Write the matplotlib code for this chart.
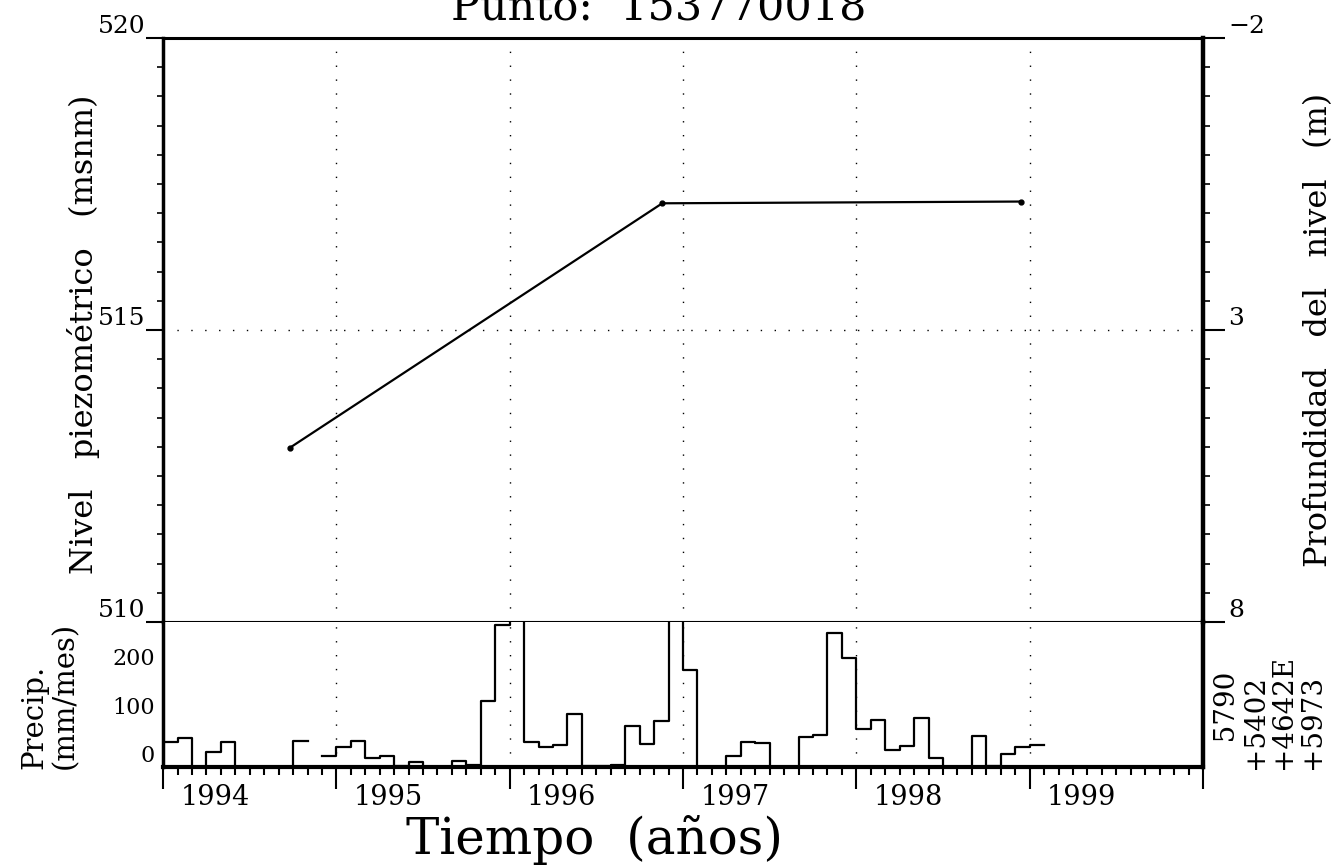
import numpy as np
import matplotlib
matplotlib.use("Agg")
import matplotlib.pyplot as plt
import matplotlib.transforms as mtransforms
from matplotlib.ticker import FixedLocator, MultipleLocator

nan = np.nan

# nivel piezometrico: fecha (años decimales) y cota (msnm)
nivel_fecha = [1994.48, 1996.63, 1998.70]
nivel_msnm = [512.98, 517.17, 517.20]

# precipitacion mensual (mm/mes) desde octubre 1993, nan = sin dato
precip_inicio = 1993.75
precip_mm = [52, 60, 0, 30, 51, 0, 0, 0, 0, 54, nan, 23,      # oct93-sep94
             42, 54, 19, 23, 2, 10, 0, 0, 12, 4, 137, 293,    # oct94-sep95
             330, 51, 41, 46, 109, 3, 2, 4, 84, 47, 95, 340,  # oct95-sep96
             200, 0, 0, 23, 52, 49, 0, 0, 63, 67, 277, 225,   # oct96-sep97
             78, 98, 36, 44, 102, 18, 0, 0, 65, 3, 27, 41,    # oct97-sep98
             45]                                              # oct98

anios = [1994, 1995, 1996, 1997, 1998, 1999]
ticks_nivel = [510, 515, 520]
ticks_prof = [-2, 3, 8]
ticks_precip = [0, 100, 200]

titulo = "Punto:  153770018"
coords = "   5790\n+5402\n+4642E\n+5973"

DOTS = (0, (1, 9))


def plot_chart():
    plt.rcParams['font.family'] = ['DejaVu Serif']
    fig = plt.figure(figsize=(13.41, 8.65), dpi=100)
    ax = fig.add_axes([0.1216, 0.281, 0.7755, 0.675])
    axp = fig.add_axes([0.1216, 0.1133, 0.7755, 0.1677])

    x0 = precip_inicio
    x1 = precip_inicio + len(anios)
    inicios = [x0 + k for k in range(len(anios) + 1)]

    # panel superior: nivel
    ax.plot(nivel_fecha, nivel_msnm, color='black', lw=1.6, marker='o', ms=3.5)
    ax.set_xlim(x0, x1)
    ax.set_ylim(ticks_nivel[0], ticks_nivel[-1])
    ax.xaxis.set_major_locator(FixedLocator(inicios))
    ax.tick_params(axis='x', length=0, labelbottom=False)
    ax.set_yticks(ticks_nivel)
    ax.yaxis.set_minor_locator(MultipleLocator(0.5))
    ax.tick_params(axis='y', which='major', direction='out', length=12, width=1.5,
                   labelsize=18, pad=1)
    ax.tick_params(axis='y', which='minor', direction='out', length=4, width=1.2)
    for lbl in ax.get_yticklabels():
        lbl.set_va('bottom')
    ax.grid(True, which='major', color='black', lw=1.0, ls=DOTS)
    ax.spines['left'].set_linewidth(2.5)
    ax.spines['top'].set_linewidth(2.2)
    ax.spines['bottom'].set_linewidth(1.5)
    ax.spines['right'].set_visible(False)

    ax2 = ax.twinx()
    ax2.set_ylim(ticks_prof[-1], ticks_prof[0])
    ax2.set_yticks(ticks_prof)
    ax2.yaxis.set_minor_locator(MultipleLocator(0.5))
    ax2.tick_params(axis='y', which='major', direction='out', length=16, width=1.5,
                    labelsize=18, pad=2)
    ax2.tick_params(axis='y', which='minor', direction='out', length=5, width=1.2)
    for lbl in ax2.get_yticklabels():
        lbl.set_va('bottom')
    for s in ['left', 'top', 'bottom']:
        ax2.spines[s].set_visible(False)
    ax2.spines['right'].set_linewidth(3.2)

    # panel inferior: precipitacion
    bordes = x0 + np.arange(len(precip_mm) + 1) / 12.0
    vals = list(precip_mm) + [precip_mm[-1]]
    axp.step(bordes, vals, where='post', color='black', lw=1.6)
    axp.set_xlim(x0, x1)
    axp.set_ylim(0, 300)
    axp.xaxis.set_major_locator(FixedLocator(inicios))
    axp.xaxis.set_minor_locator(MultipleLocator(1 / 12.0))
    axp.tick_params(axis='x', which='major', direction='out', length=16, width=1.5,
                    labelbottom=False)
    axp.tick_params(axis='x', which='minor', direction='out', length=6, width=1.5)
    axp.set_yticks(ticks_precip)
    axp.tick_params(axis='y', length=0, labelsize=16, pad=6)
    for lbl in axp.get_yticklabels():
        lbl.set_va('bottom')
    axp.grid(True, axis='x', which='major', color='black', lw=1.0, ls=DOTS)
    axp.spines['top'].set_visible(False)
    axp.spines['bottom'].set_linewidth(3.0)
    axp.spines['left'].set_linewidth(2.5)
    axp.spines['right'].set_linewidth(3.2)

    trans = mtransforms.blended_transform_factory(axp.transData, axp.transAxes)
    for a in anios:
        axp.text(a + 0.05, -0.21, str(a), transform=trans, ha='center', va='center',
                 fontsize=19.5)

    # textos
    fig.text(0.491, 1 - 19 / 865, titulo, ha='center', va='baseline', fontsize=31)
    fig.text(0.443, 0.029, "Tiempo  (años)", ha='center', va='center', fontsize=36)
    fig.text(0.062, 0.613, "Nivel   piezométrico   (msnm)", rotation=90,
             ha='center', va='center', fontsize=23)
    fig.text(0.983, 0.618, "Profundidad   del   nivel   (m)", rotation=90,
             ha='center', va='center', fontsize=23)
    fig.text(0.037, 0.111, "Precip.\n(mm/mes)", rotation=90, ha='center', va='bottom',
             multialignment='left', fontsize=21, linespacing=1.1)
    fig.text(0.947, 0.111, coords, rotation=90, ha='center', va='bottom',
             multialignment='left', fontsize=20, linespacing=1.05)

    fig.savefig("out.png", dpi=100)


def main():
    plot_chart()


if __name__ == '__main__':
    main()
